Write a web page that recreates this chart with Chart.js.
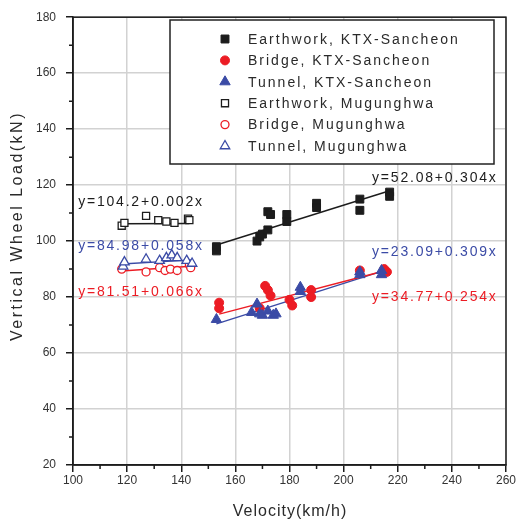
<!doctype html>
<html lang="en">
  <head>
    <meta charset="UTF-8" />
    <title>Vertical wheel load vs velocity</title>
    <style>
      html, body { margin: 0; padding: 0; background: #fff; }
      #wrap { width: 518px; height: 524px; }
    </style>
  </head>

  <body>
    <div id="wrap"><canvas id="chart"></canvas></div>

    <script src="https://cdn.jsdelivr.net/npm/chart.js@4"></script>

    <script>
      // velocity (km/h) and vertical wheel load (kN)
      const earthKtxV = [153, 153, 168, 169, 170, 172, 172, 173, 179, 179, 190, 190, 206, 206, 217, 217]
      const earthKtxLoad = [96.5, 98, 100, 101.5, 102.5, 104, 110.5, 109.5, 109.5, 107, 113.5, 112, 115, 111, 117.5, 116]

      const bridgeKtxV = [154, 154, 169, 171, 172, 173, 180, 181, 188, 188, 206, 215, 216]
      const bridgeKtxLoad = [78, 76, 76, 84, 82.5, 80.5, 79, 77, 82.5, 80, 89.5, 90, 89]

      const tunnelKtxV = [153, 166, 168, 169, 170, 172, 174, 175, 184, 184, 206, 206, 214, 214]
      const tunnelKtxLoad = [72, 74.5, 77.5, 74, 73.5, 75, 73.5, 74, 83.5, 82, 89, 88, 89.5, 88]

      const earthMugV = [118, 119, 127, 131.5, 134.5, 137.5, 142.5, 143]
      const earthMugLoad = [105.5, 106.5, 109, 107.5, 107, 106.5, 108, 107.5]

      const bridgeMugV = [118, 127, 132, 134, 136, 138.5, 143, 143.5]
      const bridgeMugLoad = [90, 89, 90.5, 89.5, 90, 89.5, 91.5, 90.5]

      const tunnelMugV = [118.5, 119, 127, 132, 134.5, 136.5, 138.5, 142, 144]
      const tunnelMugLoad = [91, 92.5, 93.5, 93, 94, 95, 94, 93, 92]

      // regression lines: end points [start, end]
      const fitEarthKtxV = [153, 217]
      const fitEarthKtxLoad = [98.6, 118.0]
      const fitBridgeKtxV = [154, 216]
      const fitBridgeKtxLoad = [73.9, 89.6]
      const fitTunnelKtxV = [153, 214]
      const fitTunnelKtxLoad = [70.4, 89.2]
      const fitEarthMugV = [118, 143]
      const fitEarthMugLoad = [106.2, 106.3]
      const fitBridgeMugV = [118, 143.5]
      const fitBridgeMugLoad = [89.3, 91.0]
      const fitTunnelMugV = [118, 144]
      const fitTunnelMugLoad = [91.8, 93.3]

      const equations = [
        'y=104.2+0.002x',
        'y=84.98+0.058x',
        'y=81.51+0.066x',
        'y=52.08+0.304x',
        'y=23.09+0.309x',
        'y=34.77+0.254x',
      ]

      const xTicks = [100, 120, 140, 160, 180, 200, 220, 240, 260]
      const yTicks = [20, 40, 60, 80, 100, 120, 140, 160, 180]

      const BLACK = '#1c1c1c'
      const RED = '#ec1c24'
      const BLUE = '#3b4ba6'
      const FONT = '"Liberation Sans", Arial, sans-serif'

      const zip = (xs, ys) => xs.map((x, i) => ({ x, y: ys[i] }))

      // where the equation text sits: [left x, middle y] in data units
      const eqPlace = [
        [101.9, 114.0, BLACK],
        [101.9, 98.1, BLUE],
        [101.9, 81.8, RED],
        [210.5, 122.5, BLACK],
        [210.5, 96.0, BLUE],
        [210.5, 80.1, RED],
      ]

      function pts(label, xs, ys, color, style, radius, open) {
        return {
          type: 'scatter',
          label,
          data: zip(xs, ys),
          pointStyle: style,
          pointRadius: radius,
          pointHoverRadius: radius,
          backgroundColor: open ? '#fff' : color,
          borderColor: color,
          borderWidth: open ? 1.3 : 1,
          order: 0,
        }
      }

      function fit(xs, ys, color) {
        return {
          type: 'line',
          label: '',
          data: zip(xs, ys),
          borderColor: color,
          borderWidth: 1.4,
          pointRadius: 0,
          fill: false,
          order: 1,
        }
      }

      const datasets = [
        pts('Earthwork, KTX-Sancheon', earthKtxV, earthKtxLoad, BLACK, 'rect', 5.6, false),
        pts('Bridge, KTX-Sancheon', bridgeKtxV, bridgeKtxLoad, RED, 'circle', 4.5, false),
        pts('Tunnel, KTX-Sancheon', tunnelKtxV, tunnelKtxLoad, BLUE, 'triangle', 6, false),
        pts('Earthwork, Mugunghwa', earthMugV, earthMugLoad, BLACK, 'rect', 5, true),
        pts('Bridge, Mugunghwa', bridgeMugV, bridgeMugLoad, RED, 'circle', 4, true),
        pts('Tunnel, Mugunghwa', tunnelMugV, tunnelMugLoad, BLUE, 'triangle', 5.5, true),
        fit(fitEarthKtxV, fitEarthKtxLoad, BLACK),
        fit(fitBridgeKtxV, fitBridgeKtxLoad, RED),
        fit(fitTunnelKtxV, fitTunnelKtxLoad, BLUE),
        fit(fitEarthMugV, fitEarthMugLoad, BLACK),
        fit(fitBridgeMugV, fitBridgeMugLoad, RED),
        fit(fitTunnelMugV, fitTunnelMugLoad, BLUE),
      ]
      // tunnels drawn over bridges
      datasets[2].order = -1
      datasets[5].order = -1

      const decor = {
        id: 'decor',
        afterDraw(chart) {
          const { ctx, chartArea: a, scales } = chart
          const sx = scales.x
          const sy = scales.y
          ctx.save()

          // frame
          ctx.strokeStyle = BLACK
          ctx.lineWidth = 1.5
          ctx.strokeRect(a.left, a.top, a.right - a.left, a.bottom - a.top)

          // minor ticks
          ctx.beginPath()
          for (let i = 0; i < xTicks.length - 1; i++) {
            const px = sx.getPixelForValue((xTicks[i] + xTicks[i + 1]) / 2)
            ctx.moveTo(px, a.bottom)
            ctx.lineTo(px, a.bottom + 4)
          }
          for (let i = 0; i < yTicks.length - 1; i++) {
            const py = sy.getPixelForValue((yTicks[i] + yTicks[i + 1]) / 2)
            ctx.moveTo(a.left - 4, py)
            ctx.lineTo(a.left, py)
          }
          ctx.stroke()

          // equations
          ctx.font = '14px ' + FONT
          ctx.letterSpacing = '1.8px'
          ctx.textBaseline = 'middle'
          ctx.textAlign = 'left'
          equations.forEach((t, i) => {
            const [ex, ey, col] = eqPlace[i]
            ctx.fillStyle = col
            ctx.fillText(t, sx.getPixelForValue(ex), sy.getPixelForValue(ey))
          })

          // legend box
          const bx = 170, by = 20, bw = 324, bh = 144
          ctx.fillStyle = '#fff'
          ctx.fillRect(bx, by, bw, bh)
          ctx.strokeStyle = '#222'
          ctx.lineWidth = 1.5
          ctx.strokeRect(bx, by, bw, bh)
          ctx.font = '14px ' + FONT
          ctx.letterSpacing = '2px'
          for (let i = 0; i < 6; i++) {
            const ds = datasets[i]
            const ry = 39 + i * 21.4
            ctx.fillStyle = ds.backgroundColor
            ctx.strokeStyle = ds.borderColor
            ctx.lineWidth = ds.borderWidth
            Chart.helpers.drawPoint(ctx, {
              pointStyle: ds.pointStyle,
              radius: ds.pointRadius,
              rotation: 0,
              borderWidth: ds.borderWidth,
            }, 225, ry)
            ctx.fillStyle = '#2a2a2a'
            ctx.fillText(ds.label, 248, ry + 1)
          }

          // axis titles
          ctx.fillStyle = '#2a2a2a'
          ctx.font = '16px ' + FONT
          ctx.textAlign = 'center'
          ctx.letterSpacing = '1px'
          ctx.fillText('Velocity(km/h)', 290, 512)
          ctx.translate(17.5, 226)
          ctx.rotate(-Math.PI / 2)
          ctx.letterSpacing = '2.5px'
          ctx.fillText('Vertical Wheel Load(kN)', 0, 0)
          ctx.restore()
        },
      }

      new Chart(document.getElementById('chart'), {
        type: 'scatter',
        data: { datasets },
        options: {
          responsive: true,
          maintainAspectRatio: false,
          animation: false,
          layout: { padding: { top: 12, right: 12, left: 0, bottom: 0 } },
          plugins: {
            legend: { display: false },
            tooltip: { enabled: false },
          },
          scales: {
            x: {
              type: 'linear',
              min: 100,
              max: 260,
              afterBuildTicks: (s) => { s.ticks = xTicks.map((v) => ({ value: v })) },
              afterFit: (s) => { s.height = 59 },
              ticks: { color: '#333', font: { size: 12, family: FONT }, padding: 1, maxRotation: 0 },
              grid: { color: '#d2d2d2', lineWidth: 1.5, tickLength: 7, tickColor: BLACK, tickWidth: 1.5 },
              border: { color: BLACK, width: 1.5 },
            },
            y: {
              type: 'linear',
              min: 20,
              max: 180,
              afterBuildTicks: (s) => { s.ticks = yTicks.map((v) => ({ value: v })) },
              afterFit: (s) => { s.width = 73 },
              ticks: { color: '#333', font: { size: 12, family: FONT }, padding: 10 },
              grid: { color: '#d2d2d2', lineWidth: 1.5, tickLength: 7, tickColor: BLACK, tickWidth: 1.5 },
              border: { color: BLACK, width: 1.5 },
            },
          },
        },
        plugins: [decor],
      })
    </script>
  </body>
</html>
